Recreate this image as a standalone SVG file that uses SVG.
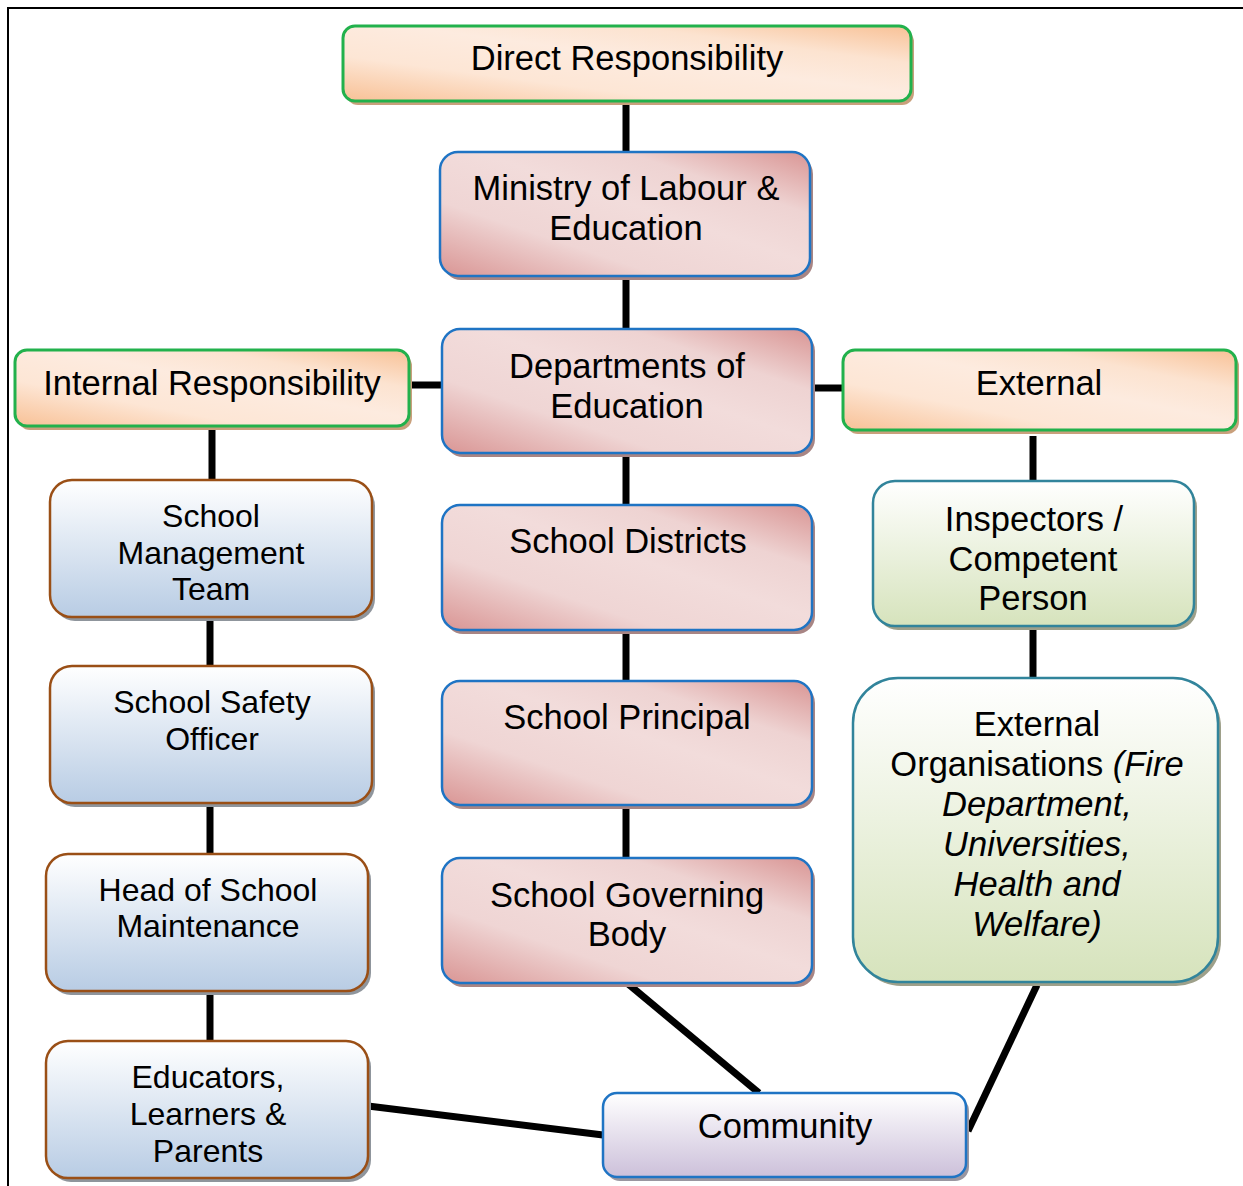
<svg xmlns="http://www.w3.org/2000/svg" width="1243" height="1186" viewBox="0 0 1243 1186">
  <defs>
    <linearGradient id="peach" x1="0" y1="1" x2="1" y2="0">
      <stop offset="0" stop-color="#f8c196"/>
      <stop offset="0.3" stop-color="#fde6d5"/>
      <stop offset="0.55" stop-color="#fdebdf"/>
      <stop offset="0.75" stop-color="#fce3d0"/>
      <stop offset="1" stop-color="#f8c196"/>
    </linearGradient>
    <linearGradient id="rose" x1="0" y1="1" x2="1" y2="0">
      <stop offset="0" stop-color="#d99594"/>
      <stop offset="0.3" stop-color="#efd5d4"/>
      <stop offset="0.55" stop-color="#f2dcdb"/>
      <stop offset="0.75" stop-color="#eed3d2"/>
      <stop offset="1" stop-color="#d99594"/>
    </linearGradient>
    <linearGradient id="sky" x1="0" y1="0" x2="0" y2="1">
      <stop offset="0" stop-color="#ffffff"/>
      <stop offset="1" stop-color="#b8cce4"/>
    </linearGradient>
    <linearGradient id="leaf" x1="0" y1="0" x2="0" y2="1">
      <stop offset="0" stop-color="#ffffff"/>
      <stop offset="1" stop-color="#d6e3bc"/>
    </linearGradient>
    <linearGradient id="lilac" x1="0" y1="0" x2="0" y2="1">
      <stop offset="0" stop-color="#ffffff"/>
      <stop offset="1" stop-color="#ccc0da"/>
    </linearGradient>
  </defs>
  <style>
    text { font-family: "Liberation Sans", Arial, sans-serif; fill: #000; text-anchor: middle; }
    .t34 { font-size: 34.5px; }
    .t32 { font-size: 32px; }
    .it { font-style: italic; }
    .head { fill: url(#peach); stroke: #22b14c; stroke-width: 3; }
    .head-sh { fill: #c9a07c; }
    .gov { fill: url(#rose); stroke: #1f74c4; stroke-width: 2.5; }
    .gov-sh { fill: #a88584; }
    .int { fill: url(#sky); stroke: #9a4f16; stroke-width: 2.5; }
    .int-sh { fill: #8f959c; }
    .ext { fill: url(#leaf); stroke: #31849b; stroke-width: 2.5; }
    .ext-sh { fill: #9ea08a; }
    .com { fill: url(#lilac); stroke: #1f74c4; stroke-width: 2.5; }
    .com-sh { fill: #9a96a0; }
    .link { stroke: #000; stroke-width: 7; fill: none; }
    .frame { stroke: #000; stroke-width: 2; fill: none; }
  </style>

  <rect width="1243" height="1186" fill="#fff"/>
  <!-- page frame: top and left rules -->
  <path class="frame" d="M8,1186 V8 H1243"/>

  <!-- connectors -->
  <g id="connectors">
    <line class="link" x1="626" y1="101" x2="626" y2="152"/>
    <line class="link" x1="626" y1="276" x2="626" y2="329"/>
    <line class="link" x1="409" y1="385" x2="442" y2="385"/>
    <line class="link" x1="812" y1="388" x2="843" y2="388"/>
    <line class="link" x1="212" y1="426" x2="212" y2="480"/>
    <line class="link" x1="210" y1="617" x2="210" y2="666"/>
    <line class="link" x1="210" y1="803" x2="210" y2="854"/>
    <line class="link" x1="210" y1="991" x2="210" y2="1041"/>
    <line class="link" x1="626" y1="453" x2="626" y2="505"/>
    <line class="link" x1="626" y1="630" x2="626" y2="681"/>
    <line class="link" x1="626" y1="805" x2="626" y2="858"/>
    <line class="link" x1="1033" y1="436" x2="1033" y2="481"/>
    <line class="link" x1="1033" y1="626" x2="1033" y2="678"/>
    <line class="link" x1="627" y1="983" x2="759" y2="1093"/>
    <line class="link" x1="368" y1="1106" x2="603" y2="1135"/>
    <line class="link" x1="1037" y1="985" x2="968" y2="1131"/>
  </g>

  <!-- top-level headings -->
  <g id="direct-responsibility">
    <rect class="head-sh" x="346" y="30" width="568" height="75" rx="12"/>
    <rect class="head" x="343" y="26" width="568" height="75" rx="12"/>
    <text class="t34" x="627" y="70">Direct Responsibility</text>
  </g>
  <g id="internal-responsibility">
    <rect class="head-sh" x="18" y="354" width="394" height="76" rx="12"/>
    <rect class="head" x="15" y="350" width="394" height="76" rx="12"/>
    <text class="t34" x="212" y="395">Internal Responsibility</text>
  </g>
  <g id="external">
    <rect class="head-sh" x="846" y="354" width="393" height="80" rx="12"/>
    <rect class="head" x="843" y="350" width="393" height="80" rx="12"/>
    <text class="t34" x="1039" y="395">External</text>
  </g>

  <!-- direct line of responsibility -->
  <g id="ministry">
    <rect class="gov-sh" x="443" y="156" width="370" height="124" rx="18"/>
    <rect class="gov" x="440" y="152" width="370" height="124" rx="18"/>
    <text class="t34" x="626" y="200">Ministry of Labour &amp;</text>
    <text class="t34" x="626" y="240">Education</text>
  </g>
  <g id="departments">
    <rect class="gov-sh" x="445" y="333" width="370" height="124" rx="18"/>
    <rect class="gov" x="442" y="329" width="370" height="124" rx="18"/>
    <text class="t34" x="627" y="378">Departments of</text>
    <text class="t34" x="627" y="418">Education</text>
  </g>
  <g id="school-districts">
    <rect class="gov-sh" x="445" y="509" width="370" height="125" rx="18"/>
    <rect class="gov" x="442" y="505" width="370" height="125" rx="18"/>
    <text class="t34" x="628" y="553">School Districts</text>
  </g>
  <g id="school-principal">
    <rect class="gov-sh" x="445" y="685" width="370" height="124" rx="18"/>
    <rect class="gov" x="442" y="681" width="370" height="124" rx="18"/>
    <text class="t34" x="627" y="729">School Principal</text>
  </g>
  <g id="governing-body">
    <rect class="gov-sh" x="445" y="862" width="370" height="125" rx="18"/>
    <rect class="gov" x="442" y="858" width="370" height="125" rx="18"/>
    <text class="t34" x="627" y="907">School Governing</text>
    <text class="t34" x="627" y="946">Body</text>
  </g>

  <!-- internal line -->
  <g id="management-team">
    <rect class="int-sh" x="53" y="484" width="322" height="137" rx="22"/>
    <rect class="int" x="50" y="480" width="322" height="137" rx="22"/>
    <text class="t32" x="211" y="527">School</text>
    <text class="t32" x="211" y="564">Management</text>
    <text class="t32" x="211" y="600">Team</text>
  </g>
  <g id="safety-officer">
    <rect class="int-sh" x="53" y="670" width="322" height="137" rx="22"/>
    <rect class="int" x="50" y="666" width="322" height="137" rx="22"/>
    <text class="t32" x="212" y="713">School Safety</text>
    <text class="t32" x="212" y="750">Officer</text>
  </g>
  <g id="maintenance">
    <rect class="int-sh" x="49" y="858" width="322" height="137" rx="22"/>
    <rect class="int" x="46" y="854" width="322" height="137" rx="22"/>
    <text class="t32" x="208" y="901">Head of School</text>
    <text class="t32" x="208" y="937">Maintenance</text>
  </g>
  <g id="educators">
    <rect class="int-sh" x="49" y="1045" width="322" height="137" rx="22"/>
    <rect class="int" x="46" y="1041" width="322" height="137" rx="22"/>
    <text class="t32" x="208" y="1088">Educators,</text>
    <text class="t32" x="208" y="1125">Learners &amp;</text>
    <text class="t32" x="208" y="1162">Parents</text>
  </g>

  <!-- external line -->
  <g id="inspectors">
    <rect class="ext-sh" x="876" y="485" width="321" height="145" rx="22"/>
    <rect class="ext" x="873" y="481" width="321" height="145" rx="22"/>
    <text class="t34" x="1034" y="531">Inspectors /</text>
    <text class="t34" x="1033" y="571">Competent</text>
    <text class="t34" x="1033" y="610">Person</text>
  </g>
  <g id="external-organisations">
    <rect class="ext-sh" x="856" y="682" width="365" height="304" rx="45"/>
    <rect class="ext" x="853" y="678" width="365" height="304" rx="45"/>
    <text class="t34" x="1037" y="736">External</text>
    <text class="t34" x="1037" y="776">Organisations <tspan class="it">(Fire</tspan></text>
    <text class="t34 it" x="1037" y="816">Department,</text>
    <text class="t34 it" x="1037" y="856">Universities,</text>
    <text class="t34 it" x="1037" y="896">Health and</text>
    <text class="t34 it" x="1037" y="936">Welfare)</text>
  </g>

  <g id="community">
    <rect class="com-sh" x="606" y="1097" width="363" height="84" rx="14"/>
    <rect class="com" x="603" y="1093" width="363" height="84" rx="14"/>
    <text class="t34" x="785" y="1138">Community</text>
  </g>
</svg>
